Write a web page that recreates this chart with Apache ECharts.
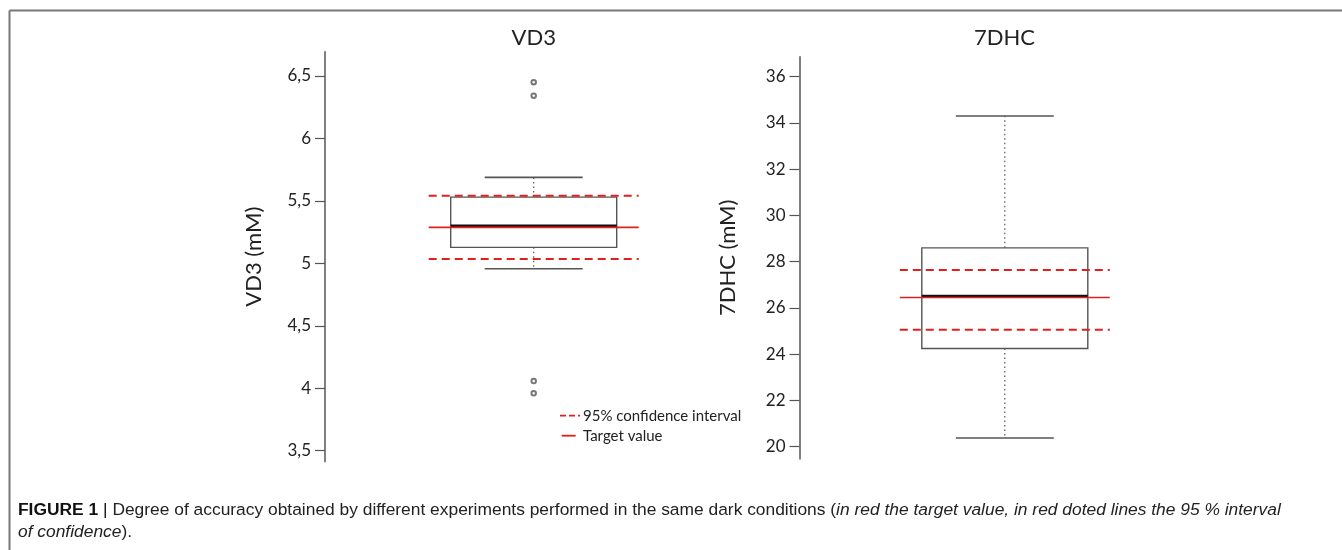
<!DOCTYPE html>
<html>
<head>
<meta charset="utf-8">
<script src="https://cdn.jsdelivr.net/npm/echarts@6/dist/echarts.min.js"></script>
<style>html,body{margin:0;padding:0;background:#fff}#c{width:1342px;height:550px}</style>
</head>
<body>
<div id="c"></div>
<script>
// ---- data ----
const panelTitles = ['VD3', '7DHC'];
const axisNames = ['VD3 (mM)', '7DHC (mM)'];
// [min whisker, Q1, median, Q3, max whisker]
const vd3Box = [4.957, 5.128, 5.298, 5.530, 5.688];
const dhcBox = [20.38, 24.25, 26.50, 28.60, 34.30];
const vd3Outliers = [6.45, 6.342, 4.058, 3.96];
const dhcOutliers = [];
// [lower CI, target, upper CI]
const vd3Ref = [5.034, 5.288, 5.540];
const dhcRef = [25.06, 26.45, 27.64];
const vd3Ticks = [3.5, 4, 4.5, 5, 5.5, 6, 6.5];
const dhcTicks = [20, 22, 24, 26, 28, 30, 32, 34, 36];
const vd3Range = [3.412, 6.694];
const dhcRange = [19.47, 36.865];
const legendLabels = ['95% confidence interval', 'Target value'];
const captionBold = 'FIGURE 1';
const captionText = 'Degree of accuracy obtained by different experiments performed in the same dark conditions (';
const captionItalic1 = 'in red the target value, in red doted lines the 95 % interval';
const captionItalic2 = 'of confidence';

// ---- styles ----
const FONT = 'Lato, "Open Sans", sans-serif';
const CAPFONT = '"Liberation Sans", Arial, sans-serif';
const GREY = '#555';
const RED = '#e0201e';
const BOX_HALF = 83, CAP_HALF = 49, REF_HALF = 105;

const chart = echarts.init(document.getElementById('c'), null, {renderer: 'canvas'});

function boxRender(params, api) {
  const x = api.value(0);
  const pMin = api.coord([x, api.value(1)]);
  const pQ1 = api.coord([x, api.value(2)]);
  const pMed = api.coord([x, api.value(3)]);
  const pQ3 = api.coord([x, api.value(4)]);
  const pMax = api.coord([x, api.value(5)]);
  const cx = pMed[0];
  const dotted = {stroke: GREY, lineWidth: 1.2, lineDash: [1.5, 3]};
  const solid = {stroke: GREY, lineWidth: 1.6};
  return {
    type: 'group',
    children: [
      {type: 'line', shape: {x1: cx, y1: pQ3[1], x2: cx, y2: pMax[1]}, style: dotted},
      {type: 'line', shape: {x1: cx, y1: pQ1[1], x2: cx, y2: pMin[1]}, style: dotted},
      {type: 'line', shape: {x1: cx - CAP_HALF, y1: pMax[1], x2: cx + CAP_HALF, y2: pMax[1]}, style: solid},
      {type: 'line', shape: {x1: cx - CAP_HALF, y1: pMin[1], x2: cx + CAP_HALF, y2: pMin[1]}, style: solid},
      {type: 'rect', shape: {x: cx - BOX_HALF, y: pQ3[1], width: 2 * BOX_HALF, height: pQ1[1] - pQ3[1]},
        style: {fill: 'none', stroke: GREY, lineWidth: 1.4}},
      {type: 'line', shape: {x1: cx - BOX_HALF, y1: pMed[1], x2: cx + BOX_HALF, y2: pMed[1]},
        style: {stroke: '#111', lineWidth: 3.2}}
    ]
  };
}

function refRender(params, api) {
  const x = api.value(0);
  const lo = api.coord([x, api.value(1)]);
  const tg = api.coord([x, api.value(2)]);
  const hi = api.coord([x, api.value(3)]);
  const cx = tg[0];
  const dash = {stroke: RED, lineWidth: 2, lineDash: [8, 5]};
  return {
    type: 'group',
    children: [
      {type: 'line', shape: {x1: cx - REF_HALF, y1: hi[1], x2: cx + REF_HALF, y2: hi[1]}, style: dash},
      {type: 'line', shape: {x1: cx - REF_HALF, y1: lo[1], x2: cx + REF_HALF, y2: lo[1]}, style: dash},
      {type: 'line', shape: {x1: cx - REF_HALF, y1: tg[1], x2: cx + REF_HALF, y2: tg[1]},
        style: {stroke: RED, lineWidth: 1.6}}
    ]
  };
}

function yAxis(idx, range, ticks, name) {
  return {
    type: 'value', gridIndex: idx, min: range[0], max: range[1],
    name: name, nameLocation: 'middle', nameRotate: 90, nameGap: idx === 0 ? 60 : 61,
    nameTextStyle: {fontFamily: FONT, fontSize: 22, color: '#222'},
    splitLine: {show: false},
    axisLine: {show: true, lineStyle: {color: GREY, width: 1.5}},
    axisTick: {show: true, inside: false, length: 10, customValues: ticks, lineStyle: {color: GREY, width: 1.2}},
    axisLabel: {show: true, margin: 14, customValues: ticks, fontFamily: FONT, fontSize: 17, color: '#222',
      formatter: v => String(v).replace('.', ',')}
  };
}

function xAxis(idx, cat) {
  return {type: 'category', gridIndex: idx, data: [cat], show: false, boundaryGap: true};
}

const option = {
  animation: false,
  backgroundColor: '#fff',
  grid: [
    {left: 325, top: 51.7, width: 417.4, height: 410},
    {left: 799.5, top: 56.7, width: 410.6, height: 402.3}
  ],
  xAxis: [xAxis(0, panelTitles[0]), xAxis(1, panelTitles[1])],
  yAxis: [yAxis(0, vd3Range, vd3Ticks, axisNames[0]), yAxis(1, dhcRange, dhcTicks, axisNames[1])],
  series: [
    {type: 'custom', xAxisIndex: 0, yAxisIndex: 0, renderItem: boxRender, data: [[0, ...vd3Box]], z: 2},
    {type: 'custom', xAxisIndex: 1, yAxisIndex: 1, renderItem: boxRender, data: [[0, ...dhcBox]], z: 2},
    {type: 'custom', xAxisIndex: 0, yAxisIndex: 0, renderItem: refRender, data: [[0, ...vd3Ref]], z: 3},
    {type: 'custom', xAxisIndex: 1, yAxisIndex: 1, renderItem: refRender, data: [[0, ...dhcRef]], z: 3},
    {type: 'scatter', xAxisIndex: 0, yAxisIndex: 0, symbol: 'emptyCircle', symbolSize: 4.5,
      itemStyle: {color: GREY, borderColor: GREY, borderWidth: 1.2},
      data: vd3Outliers.map(v => [0, v]), z: 4},
    {type: 'scatter', xAxisIndex: 1, yAxisIndex: 1, symbol: 'emptyCircle', symbolSize: 4.5,
      itemStyle: {color: GREY, borderColor: GREY, borderWidth: 1.2},
      data: dhcOutliers.map(v => [0, v]), z: 4}
  ],
  graphic: [
    // frame
    {type: 'line', shape: {x1: 9.5, y1: 10.5, x2: 1342, y2: 10.5}, style: {stroke: '#777', lineWidth: 2}},
    {type: 'line', shape: {x1: 9.5, y1: 10.5, x2: 9.5, y2: 550}, style: {stroke: '#777', lineWidth: 2}},
    // panel titles
    {type: 'text', x: 533.7, y: 37.5, style: {text: panelTitles[0], fontFamily: FONT, fontSize: 22, fill: '#222', align: 'center', verticalAlign: 'middle'}},
    {type: 'text', x: 1004.5, y: 37.5, style: {text: panelTitles[1], fontFamily: FONT, fontSize: 22, fill: '#222', align: 'center', verticalAlign: 'middle'}},
    // legend
    {type: 'line', shape: {x1: 560, y1: 415.7, x2: 580, y2: 415.7}, style: {stroke: RED, lineWidth: 1.8, lineDash: [6, 3]}},
    {type: 'line', shape: {x1: 561.7, y1: 435.7, x2: 575.7, y2: 435.7}, style: {stroke: RED, lineWidth: 1.8}},
    {type: 'text', x: 583, y: 415.7, style: {text: legendLabels[0], fontFamily: FONT, fontSize: 15, fill: '#222', align: 'left', verticalAlign: 'middle'}},
    {type: 'text', x: 583, y: 435.7, style: {text: legendLabels[1], fontFamily: FONT, fontSize: 15, fill: '#222', align: 'left', verticalAlign: 'middle'}},
    // caption
    {type: 'text', x: 18, y: 510, style: {
      text: '{b|' + captionBold + ' }{s||}{n| ' + captionText + '}{i|' + captionItalic1 + '}',
      verticalAlign: 'middle', align: 'left',
      rich: {
        b: {fontFamily: CAPFONT, fontWeight: 'bold', fontSize: 17.4, fill: '#111'},
        s: {fontFamily: CAPFONT, fontSize: 17.4, fill: '#111'},
        n: {fontFamily: CAPFONT, fontSize: 17.4, fill: '#222'},
        i: {fontFamily: CAPFONT, fontStyle: 'italic', fontSize: 17.4, fill: '#222'}
      }}},
    {type: 'text', x: 18, y: 532, style: {
      text: '{i|' + captionItalic2 + '}{n|).}',
      verticalAlign: 'middle', align: 'left',
      rich: {
        n: {fontFamily: CAPFONT, fontSize: 17.4, fill: '#222'},
        i: {fontFamily: CAPFONT, fontStyle: 'italic', fontSize: 17.4, fill: '#222'}
      }}}
  ]
};
chart.setOption(option);
</script>
</body>
</html>
